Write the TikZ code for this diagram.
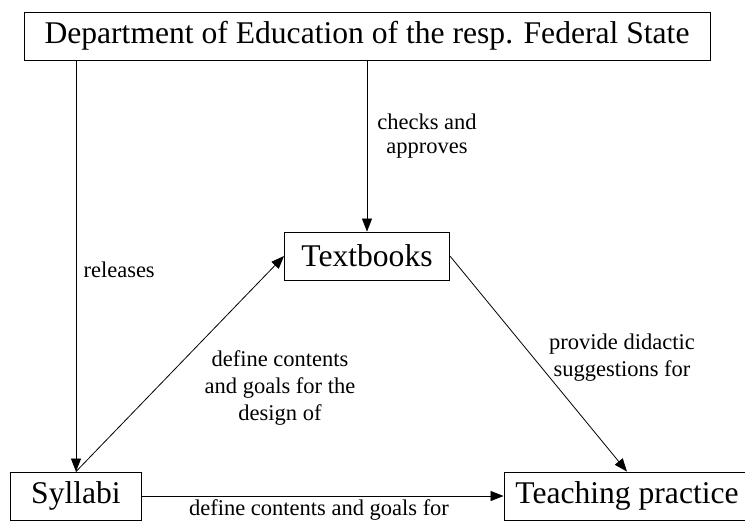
\documentclass[tikz,border=0pt]{standalone}
\usepackage{fontspec}
\setmainfont{Liberation Serif}
\usetikzlibrary{arrows.meta}

\begin{document}
\begin{tikzpicture}[
    x=1pt, y=-1pt,
    box/.style={draw, line width=0.9pt, inner sep=0pt, minimum height=48pt, font=\fontsize{31.6}{36}\selectfont},
    edgetext/.style={align=center, font=\fontsize{22.5}{27}\selectfont},
    arr/.style={line width=0.8pt, -{Triangle[length=13pt, width=10pt]}}
]
    \useasboundingbox (0,0) rectangle (745,520);

    % the four bodies
    \node[box, minimum width=686pt] (dept) at (367,36) {Department of Education of the resp. Federal State};
    \node[box, minimum width=165pt] (books) at (367,256) {Textbooks};
    \node[box, minimum width=131pt] (syll) at (76,496) {Syllabi};
    \node[box, minimum width=246pt] (teach) at (627,496) {Teaching practice};

    % who acts on whom
    \draw[arr] (syll.north |- dept.south) -- (syll.north);
    \draw[arr] (dept.south) -- (books.north);
    \draw[arr] (syll.north) -- (books.west);
    \draw[arr] (books.east) -- (teach.north);
    \draw[arr] (syll.east) -- (teach.west);

    % labels
    \node[edgetext, anchor=west] (releases) at (80,270) {releases};
    \node[edgetext, font=\fontsize{22.5}{24}\selectfont] (checks) at (427,136) {checks and\\approves};
    \node[edgetext] (design) at (280,388) {define contents\\and goals for the\\design of};
    \node[edgetext] (suggest) at (622,358) {provide didactic\\suggestions for};
    \node[edgetext] (goals) at (319,510) {define contents and goals for};
\end{tikzpicture}
\end{document}
